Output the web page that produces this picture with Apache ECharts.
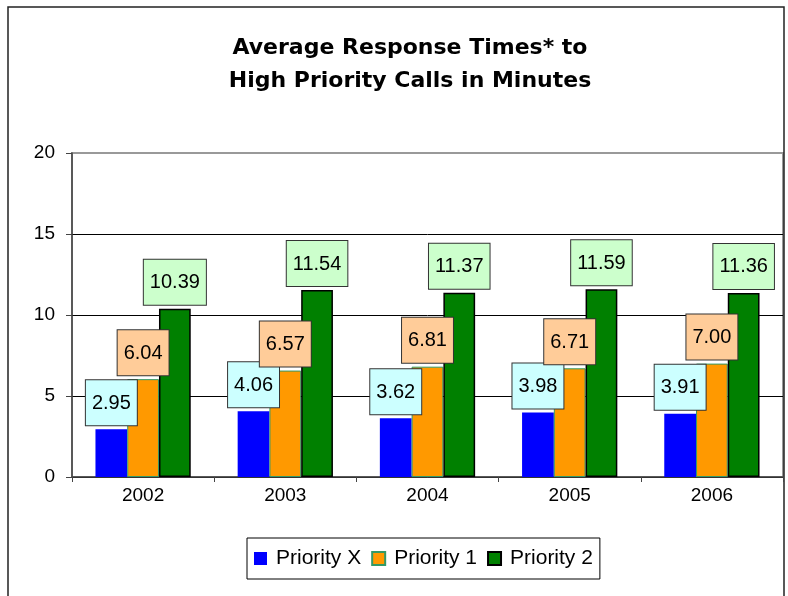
<!DOCTYPE html>
<html><head><meta charset="utf-8">
<script src="https://cdn.jsdelivr.net/npm/echarts@6/dist/echarts.min.js"></script>
<style>html,body{margin:0;padding:0;background:#fff}#c{width:788px;height:596px}</style>
</head><body><div id="c"></div>
<script>
var categories = ['2002','2003','2004','2005','2006'];
var seriesNames = ['Priority X','Priority 1','Priority 2'];
var priorityX = [2.95, 4.06, 3.62, 3.98, 3.91];
var priority1 = [6.04, 6.57, 6.81, 6.71, 7.00];
var priority2 = [10.39, 11.54, 11.37, 11.59, 11.36];
var yTicks = [0, 5, 10, 15, 20];

var FONT = '"Liberation Sans", Arial, sans-serif';
function lbl(bg) {
  return {
    show: true, position: 'top', distance: 4,
    formatter: function (p) { return p.value.toFixed(2); },
    fontFamily: FONT, fontSize: 20, color: '#000',
    backgroundColor: bg, borderColor: '#333', borderWidth: 1,
    padding: [13, 6, 12, 6]
  };
}
var chart = echarts.init(document.getElementById('c'), null, {renderer: 'canvas'});
chart.setOption({
  animation: false,
  backgroundColor: '#fff',
  textStyle: {fontFamily: FONT},
  title: {
    text: 'Average Response Times* to\nHigh Priority Calls in Minutes',
    left: 405, textAlign: 'center', top: 27,
    textStyle: {fontFamily: '"DejaVu Sans", sans-serif', fontSize: 22, fontWeight: 'bold', color: '#000', lineHeight: 33}
  },
  graphic: [{
    type: 'rect', shape: {x: 8, y: 7, width: 776, height: 600},
    style: {fill: 'none', stroke: '#222', lineWidth: 1.5}, silent: true
  }],
  legend: {
    data: seriesNames, left: 247, top: 538,
    itemWidth: 13, itemHeight: 13, itemGap: 10,
    padding: [10, 7, 10, 7],
    borderColor: '#000', borderWidth: 1,
    textStyle: {fontFamily: FONT, fontSize: 21, color: '#000', padding: [0, 0, 0, 4]},
    icon: 'rect'
  },
  grid: {left: 72, right: 5, top: 153, bottom: 119, show: true, borderColor: '#999', borderWidth: 2, containLabel: false},
  xAxis: {
    type: 'category', data: categories,
    axisLine: {lineStyle: {color: '#444', width: 1.5}},
    axisTick: {show: true, length: 5, lineStyle: {color: '#444'}},
    axisLabel: {fontFamily: FONT, fontSize: 19, color: '#000', margin: 9}
  },
  yAxis: {
    type: 'value', min: yTicks[0], max: yTicks[yTicks.length - 1], interval: 5,
    axisLine: {show: true, lineStyle: {color: '#444', width: 1.5}},
    axisTick: {show: true, length: 6, lineStyle: {color: '#444'}},
    axisLabel: {fontFamily: FONT, fontSize: 19, color: '#000', margin: 17},
    splitLine: {show: true, lineStyle: {color: ['#000', '#000', '#000', '#000', '#999'], width: 1}}
  },
  series: [
    {name: seriesNames[0], type: 'bar', data: priorityX, barGap: '0%', barCategoryGap: '33%',
     itemStyle: {color: '#0000FF'}, label: lbl('#CCFFFF'), z: 3},
    {name: seriesNames[1], type: 'bar', data: priority1,
     itemStyle: {color: '#FF9900', borderColor: '#339966', borderWidth: 1}, label: lbl('#FFCC99'), z: 3},
    {name: seriesNames[2], type: 'bar', data: priority2,
     itemStyle: {color: '#008000', borderColor: '#000', borderWidth: 1.5}, label: lbl('#CCFFCC'), z: 3}
  ]
});
</script></body></html>
